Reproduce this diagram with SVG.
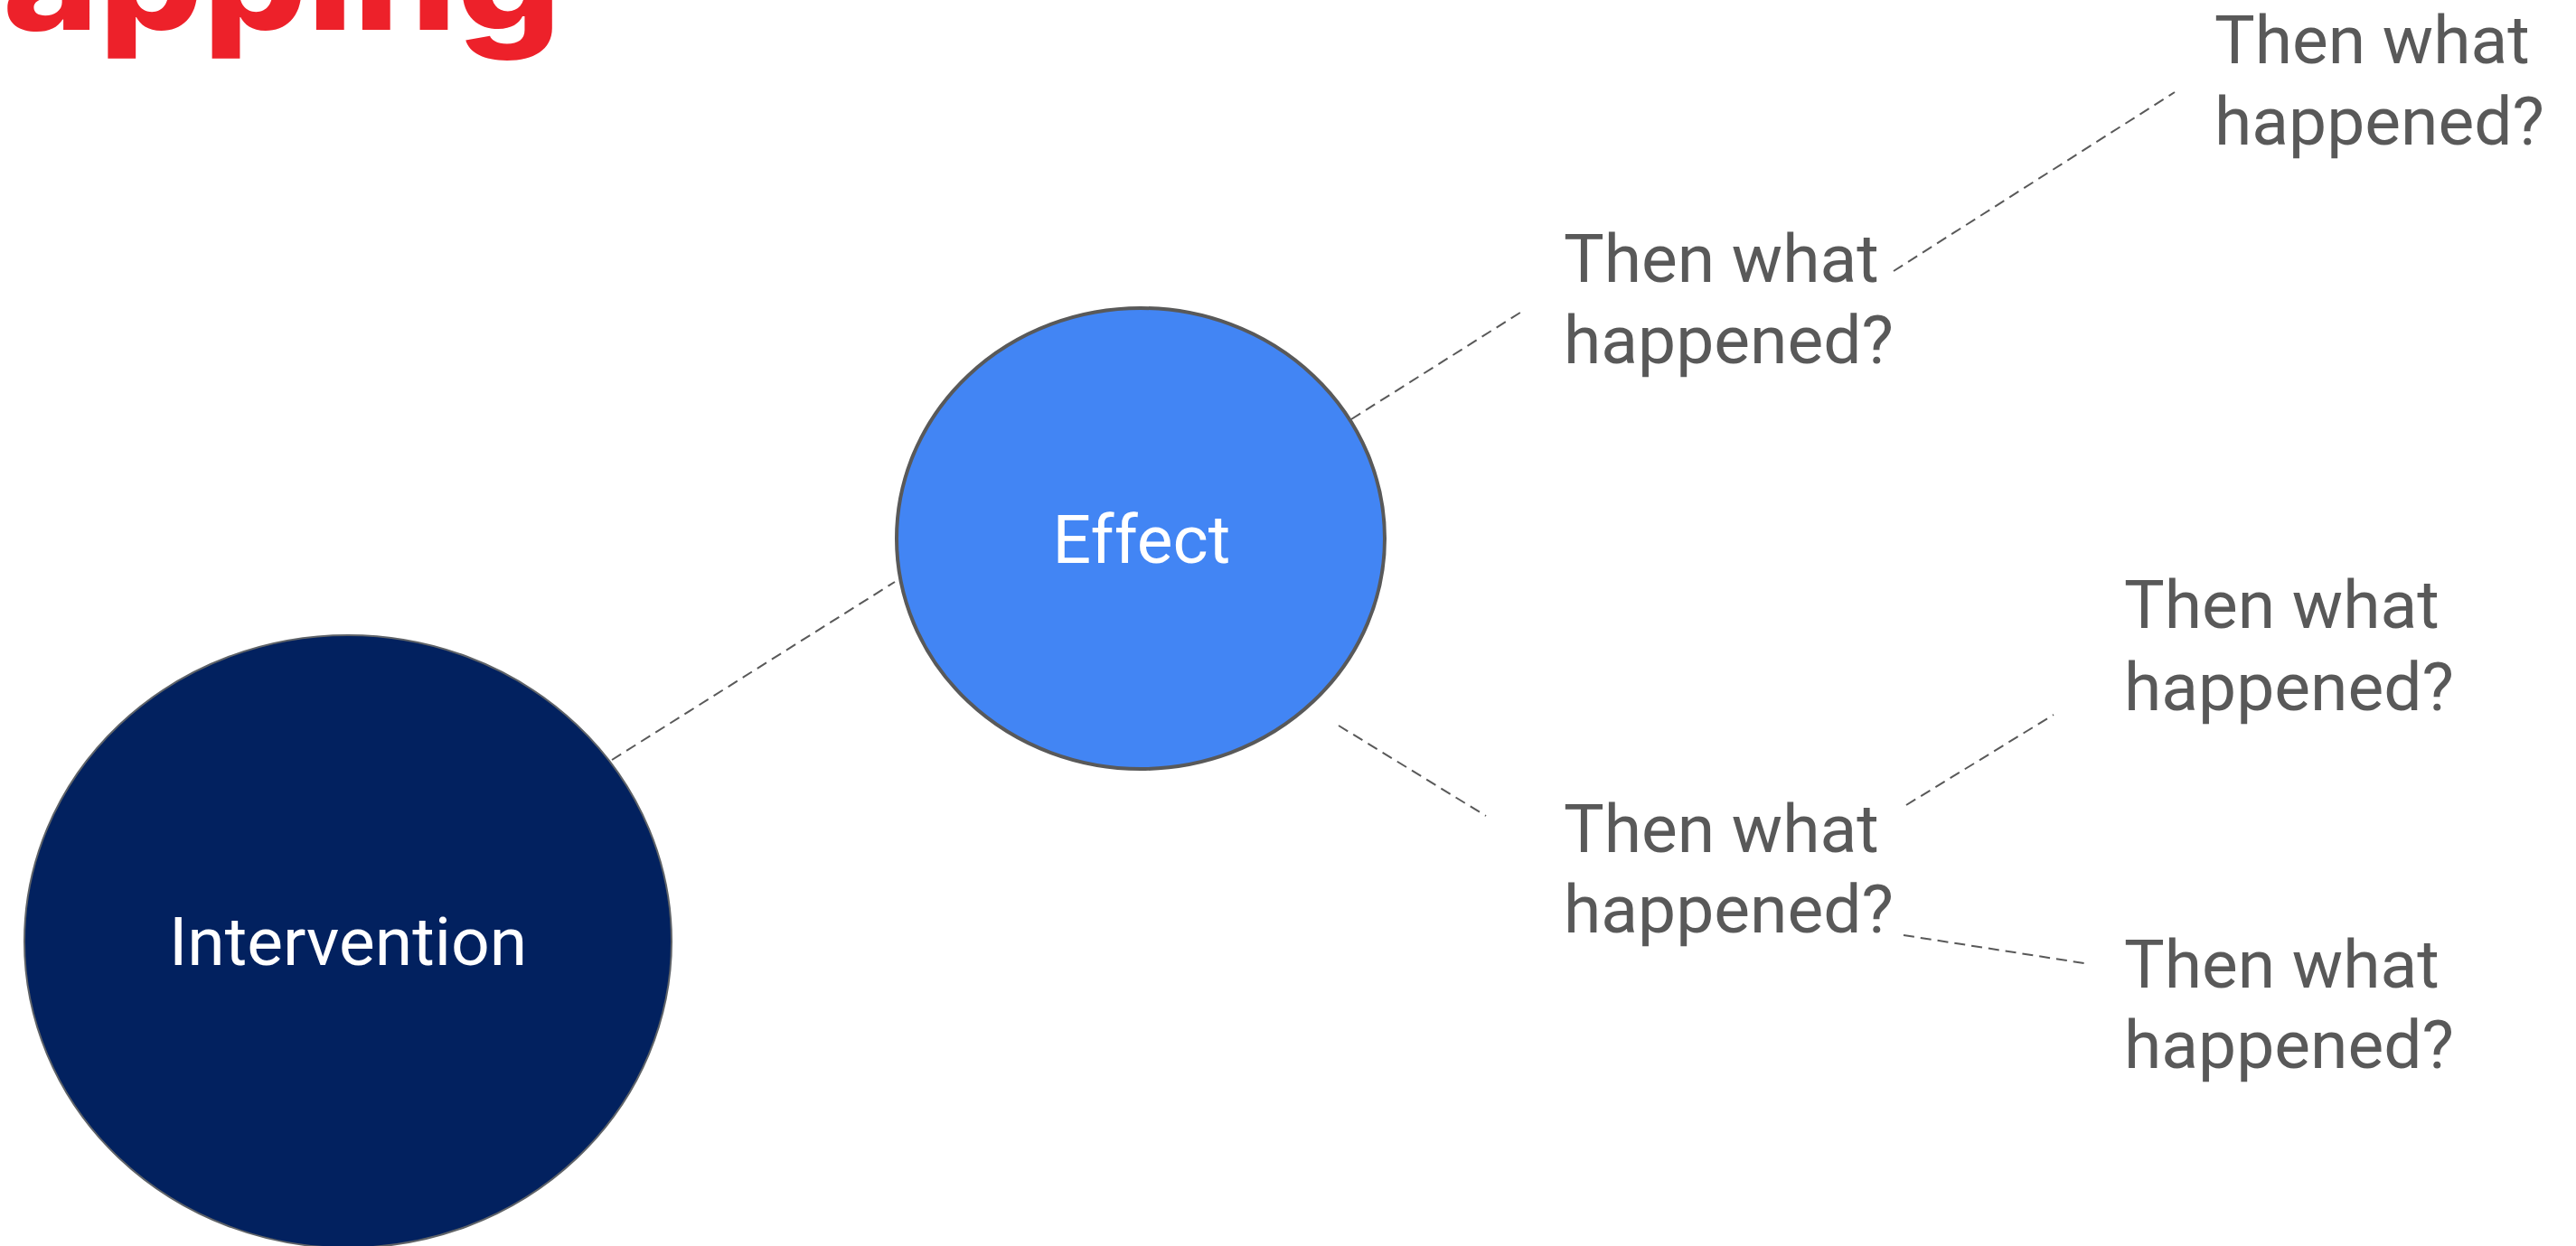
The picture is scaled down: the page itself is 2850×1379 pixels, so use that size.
<svg xmlns="http://www.w3.org/2000/svg" width="2850" height="1379" viewBox="0 0 2850 1379">
<style>
.q{font-family:Roboto,"Liberation Sans",sans-serif;font-size:75px;fill:#595959}
.w{font-family:Roboto,"Liberation Sans",sans-serif;font-size:75px;fill:#ffffff;text-anchor:middle}
.c{stroke:#595959;stroke-width:2;stroke-dasharray:12 7;fill:none}
</style>
<rect width="2850" height="1379" fill="#ffffff"/>
<text id="title" x="3" y="33" textLength="618" lengthAdjust="spacingAndGlyphs" style="font-family:Inter,'Open Sans',sans-serif;font-weight:800;font-size:157px;fill:#ed212a">apping</text>
<g id="connectors">
<line class="c" x1="677" y1="841" x2="990" y2="644"/>
<line class="c" x1="1495" y1="464" x2="1685" y2="344"/>
<line class="c" x1="2095" y1="300" x2="2406" y2="102"/>
<line class="c" x1="1481" y1="803" x2="1644" y2="903"/>
<line class="c" x1="2109" y1="891" x2="2272" y2="791"/>
<line class="c" x1="2106" y1="1035" x2="2312" y2="1067"/>
</g>
<g id="intervention">
<ellipse cx="385" cy="1042" rx="358" ry="339" fill="#02215f" stroke="#5f6368" stroke-width="2"/>
<text class="w" x="385" y="1068">Intervention</text>
</g>
<g id="effect">
<ellipse cx="1262" cy="596" rx="270" ry="255" fill="#4285f4" stroke="#595959" stroke-width="4"/>
<text class="w" x="1263" y="623">Effect</text>
</g>
<g id="q1"><text class="q" x="1730" y="312">Then what<tspan x="1730" y="402">happened?</tspan></text></g>
<g id="q2"><text class="q" x="2450" y="70">Then what<tspan x="2450" y="160">happened?</tspan></text></g>
<g id="q3"><text class="q" x="2350" y="695">Then what<tspan x="2350" y="786">happened?</tspan></text></g>
<g id="q4"><text class="q" x="1730" y="943">Then what<tspan x="1730" y="1032">happened?</tspan></text></g>
<g id="q5"><text class="q" x="2350" y="1093">Then what<tspan x="2350" y="1182">happened?</tspan></text></g>
</svg>
